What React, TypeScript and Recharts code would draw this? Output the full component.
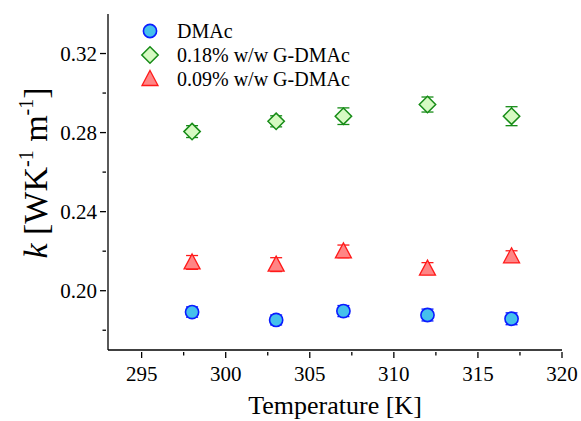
import React from 'react';
import { ScatterChart, Scatter, XAxis, YAxis, ErrorBar, Legend } from 'recharts';

const FONT = 'Liberation Serif';

// temperature [K]
const temps = [298, 303, 307, 312, 317];
// thermal conductivity k [W K^-1 m^-1] and error bars
const dmacK = [0.1892, 0.1852, 0.1897, 0.1877, 0.1858];
const dmacErr = [0.0026, 0.0025, 0.0028, 0.003, 0.003];
const g18K = [0.2805, 0.2857, 0.2883, 0.2942, 0.2883];
const g18Err = [0.003, 0.0028, 0.0042, 0.0038, 0.0048];
const g09K = [0.2143, 0.2132, 0.2199, 0.2112, 0.2174];
const g09Err = [0.0035, 0.0035, 0.0032, 0.003, 0.0028];

const xTicks = [295, 297.5, 300, 302.5, 305, 307.5, 310, 312.5, 315, 317.5, 320];
const yTicks = [0.18, 0.2, 0.22, 0.24, 0.26, 0.28, 0.3, 0.32];

const series = [
  { name: 'DMAc', k: dmacK, err: dmacErr, fill: '#45c0ec', stroke: '#0a1cff', shape: 'circle' },
  { name: '0.18% w/w G-DMAc', k: g18K, err: g18Err, fill: '#d6fac2', stroke: '#178c17', shape: 'diamond' },
  { name: '0.09% w/w G-DMAc', k: g09K, err: g09Err, fill: '#ff8585', stroke: '#ff1a1a', shape: 'triangle' },
];

const toRows = (k: number[], err: number[]) => temps.map((t, i) => ({ t, k: k[i], err: err[i] }));

const txt = { fontFamily: FONT, fill: '#000' };

function Marker({ cx, cy, kind, fill, stroke }: any) {
  if (kind === 'circle') {
    return <circle cx={cx} cy={cy} r={6.6} fill={fill} stroke={stroke} strokeWidth={1.6} />;
  }
  if (kind === 'diamond') {
    const s = 8.2;
    return (
      <polygon
        points={`${cx},${cy - s} ${cx + s},${cy} ${cx},${cy + s} ${cx - s},${cy}`}
        fill={fill}
        stroke={stroke}
        strokeWidth={1.5}
      />
    );
  }
  const w = 8;
  return (
    <polygon
      points={`${cx},${cy - 8.5} ${cx + w},${cy + 6.5} ${cx - w},${cy + 6.5}`}
      fill={fill}
      stroke={stroke}
      strokeWidth={1.3}
    />
  );
}

const isMajorX = (v: number) => v % 5 === 0;
const isMajorY = (v: number) => Math.round(v * 100) % 4 === 0;

const BottomTick = ({ x, y, payload }: any) => {
  const major = isMajorX(payload.value);
  return (
    <g>
      <line x1={x} y1={y} x2={x} y2={y + (major ? 6 : 3.5)} stroke="#000" strokeWidth={1.3} />
      {major && (
        <text x={x} y={y + 29} textAnchor="middle" fontSize={21} fontFamily={FONT} style={txt}>
          {payload.value}
        </text>
      )}
    </g>
  );
};

const TopTick = ({ x, y, payload }: any) => (
  <line x1={x} y1={y} x2={x} y2={y + (isMajorX(payload.value) ? 6 : 3.5)} stroke="#000" strokeWidth={1.3} />
);

const LeftTick = ({ x, y, payload }: any) => {
  const major = isMajorY(payload.value);
  return (
    <g>
      <line x1={x} y1={y} x2={x - (major ? 6 : 3.5)} y2={y} stroke="#000" strokeWidth={1.3} />
      {major && (
        <text x={x - 9} y={y} dy="0.35em" textAnchor="end" fontSize={21} fontFamily={FONT} style={txt}>
          {payload.value.toFixed(2)}
        </text>
      )}
    </g>
  );
};

const RightTick = ({ x, y, payload }: any) => (
  <line x1={x} y1={y} x2={x - (isMajorY(payload.value) ? 6 : 3.5)} y2={y} stroke="#000" strokeWidth={1.3} />
);

const YTitle = () => (
  <text
    transform="translate(47, 173) rotate(-90)"
    textAnchor="middle"
    fontSize={34}
    fontFamily={FONT}
    style={txt}
  >
    <tspan fontStyle="italic">k</tspan>
    <tspan> [WK</tspan>
    <tspan fontSize={20} dy={-14}>-1</tspan>
    <tspan dy={14}> m</tspan>
    <tspan fontSize={20} dy={-14}>-1</tspan>
    <tspan dy={14}>]</tspan>
  </text>
);

const XTitle = () => (
  <text x={335} y={414} textAnchor="middle" fontSize={26} fontFamily={FONT} style={txt}>
    Temperature [K]
  </text>
);

const LegendBox = () => (
  <svg width={260} height={74}>
    {series.map((s, i) => (
      <g key={s.name}>
        <Marker cx={15} cy={12 + i * 24} kind={s.shape} fill={s.fill} stroke={s.stroke} />
        <text x={42} y={12 + i * 24} dy="0.35em" fontSize={20} fontFamily={FONT} style={txt}>
          {s.name}
        </text>
      </g>
    ))}
  </svg>
);

export default function App() {
  return (
    <div
      style={{ position: 'absolute', top: 0, left: 0, width: 581, height: 421, background: '#fff', fontFamily: FONT }}
    >
      <ScatterChart
        width={581}
        height={421}
        margin={{ top: 14, right: 19, bottom: 0, left: 0 }}
        style={{ fontFamily: FONT }}
      >
        <XAxis
          dataKey="t"
          type="number"
          domain={[293, 320]}
          ticks={xTicks}
          interval={0}
          height={71}
          tickSize={0}
          tickLine={false}
          tick={<BottomTick />}
          axisLine={{ stroke: '#000', strokeWidth: 1.3 }}
          label={<XTitle />}
          allowDataOverflow
        />
        <XAxis
          xAxisId="top"
          orientation="top"
          type="number"
          domain={[293, 320]}
          ticks={xTicks}
          interval={0}
          height={0}
          tickSize={0}
          tickLine={false}
          tick={<TopTick />}
          axisLine={{ stroke: '#000', strokeWidth: 1.3 }}
          allowDataOverflow
        />
        <YAxis
          dataKey="k"
          type="number"
          domain={[0.17, 0.34]}
          ticks={yTicks}
          interval={0}
          width={108}
          tickSize={0}
          tickLine={false}
          tick={<LeftTick />}
          axisLine={{ stroke: '#000', strokeWidth: 1.3 }}
          label={<YTitle />}
          allowDataOverflow
        />
        <YAxis
          yAxisId="right"
          orientation="right"
          type="number"
          domain={[0.17, 0.34]}
          ticks={yTicks}
          interval={0}
          width={0}
          tickSize={0}
          tickLine={false}
          tick={<RightTick />}
          axisLine={{ stroke: '#000', strokeWidth: 1.3 }}
          allowDataOverflow
        />
        <Legend
          layout="vertical"
          align="center"
          verticalAlign="middle"
          content={<LegendBox />}
          wrapperStyle={{ top: 19, left: 135, width: 260 }}
        />
        {series.map((s) => (
          <Scatter
            key={s.name}
            name={s.name}
            data={toRows(s.k, s.err)}
            isAnimationActive={false}
            shape={(p: any) => <Marker cx={p.cx} cy={p.cy} kind={s.shape} fill={s.fill} stroke={s.stroke} />}
          >
            <ErrorBar dataKey="err" direction="y" width={6} stroke={s.stroke} strokeWidth={1.3} />
          </Scatter>
        ))}
      </ScatterChart>
    </div>
  );
}
